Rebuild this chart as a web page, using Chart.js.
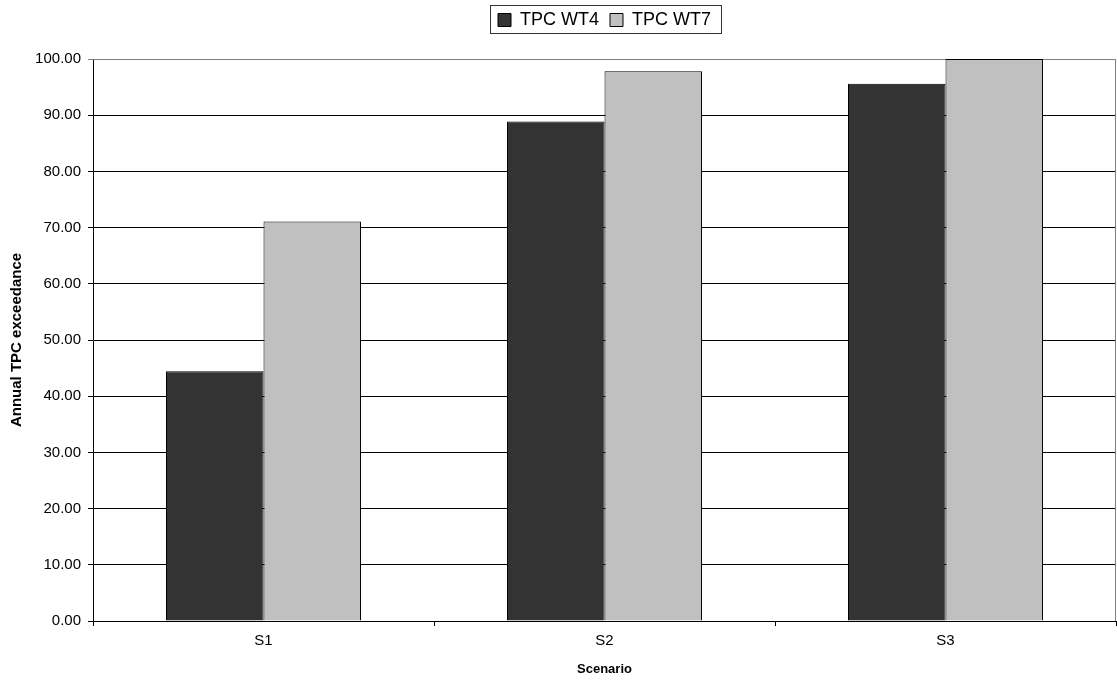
<!DOCTYPE html>
<html>
<head>
<meta charset="utf-8">
<script src="https://cdn.jsdelivr.net/npm/chart.js@4.4.1/dist/chart.umd.min.js"></script>
<style>
  html, body { margin: 0; padding: 0; background: #ffffff; }
  #wrap { width: 1117px; height: 680px; position: relative; }
</style>
</head>
<body>
<div id="wrap"><canvas id="c"></canvas></div>
<script>
const categories = ['S1', 'S2', 'S3'];
const seriesNames = ['TPC WT4', 'TPC WT7'];
const wt4Values = [44.45, 88.9, 95.6];
const wt7Values = [71.1, 97.8, 100.0];
const seriesColors = ['#333333', '#C0C0C0'];
const yTitle = 'Annual TPC exceedance';
const xTitle = 'Scenario';

const FONT = '"Liberation Sans", Arial, "Helvetica", sans-serif';

const frame = {
  id: 'frame',
  afterInit(chart) {
    const lg = chart.legend;
    if (lg) {
      const orig = lg.fit.bind(lg);
      lg.fit = function () { orig(); this.height = 59; };
    }
  },
  beforeDatasetsDraw(chart) {
    const { ctx, chartArea: a } = chart;
    ctx.save();
    ctx.strokeStyle = '#808080';
    ctx.lineWidth = 1;
    ctx.beginPath();
    ctx.moveTo(a.left, a.top + 0.5);
    ctx.lineTo(a.right - 0.5, a.top + 0.5);
    ctx.lineTo(a.right - 0.5, a.bottom);
    ctx.stroke();
    ctx.restore();
  },
  afterDraw(chart) {
    const lg = chart.legend;
    if (!lg || !lg.legendHitBoxes || !lg.legendHitBoxes.length) return;
    const hb = lg.legendHitBoxes;
    const first = hb[0], last = hb[hb.length - 1];
    const ctx = chart.ctx;
    const x0 = Math.round(first.left - 8) + 0.5;
    const x1 = Math.round(last.left + last.width + 10) + 0.5;
    ctx.save();
    ctx.strokeStyle = '#333333';
    ctx.lineWidth = 1;
    ctx.strokeRect(x0, 5.5, x1 - x0, 28);
    ctx.restore();
  }
};

new Chart(document.getElementById('c'), {
  type: 'bar',
  data: {
    labels: categories,
    datasets: [
      { label: seriesNames[0], data: wt4Values, backgroundColor: seriesColors[0], borderColor: '#000000', borderWidth: 1 },
      { label: seriesNames[1], data: wt7Values, backgroundColor: seriesColors[1], borderColor: '#000000', borderWidth: 1 }
    ]
  },
  options: {
    responsive: true,
    maintainAspectRatio: false,
    animation: false,
    devicePixelRatio: 1,
    datasets: { bar: { categoryPercentage: 0.572, barPercentage: 1.0 } },
    layout: { padding: { left: 0, right: 1, top: 0, bottom: 0 } },
    plugins: {
      tooltip: { enabled: false },
      legend: {
        display: true,
        position: 'top',
        fullSize: false,
        labels: {
          boxWidth: 13,
          boxHeight: 13,
          padding: 11,
          color: '#000000',
          font: { family: FONT, size: 18 },
          generateLabels(chart) {
            return chart.data.datasets.map((d, i) => ({
              text: d.label,
              fillStyle: d.backgroundColor,
              strokeStyle: '#000000',
              lineWidth: 1,
              datasetIndex: i,
              hidden: false,
              fontColor: '#000000'
            }));
          }
        }
      }
    },
    scales: {
      x: {
        offset: true,
        grid: { display: true, drawOnChartArea: false, drawTicks: true, tickLength: 5, color: '#000000', offset: true },
        border: { display: true, color: '#000000', width: 1 },
        ticks: { color: '#000000', font: { family: FONT, size: 15 }, padding: 6 },
        title: { display: true, text: xTitle, color: '#000000', font: { family: FONT, size: 13, weight: 'bold' }, padding: { top: 0, bottom: 3 } },
        afterFit(scale) { scale.height = 59; }
      },
      y: {
        min: 0,
        max: 100,
        grid: {
          color: (ctx) => (ctx.tick && ctx.tick.value === 100 ? '#808080' : '#000000'),
          lineWidth: 1,
          tickLength: 5,
          drawTicks: true
        },
        border: { display: true, color: '#000000', width: 1 },
        ticks: {
          stepSize: 10,
          color: '#000000',
          font: { family: FONT, size: 15 },
          padding: 7,
          callback: (v) => Number(v).toFixed(2)
        },
        title: { display: true, text: yTitle, color: '#000000', font: { family: FONT, size: 15, weight: 'bold' }, padding: { top: 8, bottom: 0 } },
        afterFit(scale) { scale.width = 93; }
      }
    }
  },
  plugins: [frame]
});
</script>
</body>
</html>
